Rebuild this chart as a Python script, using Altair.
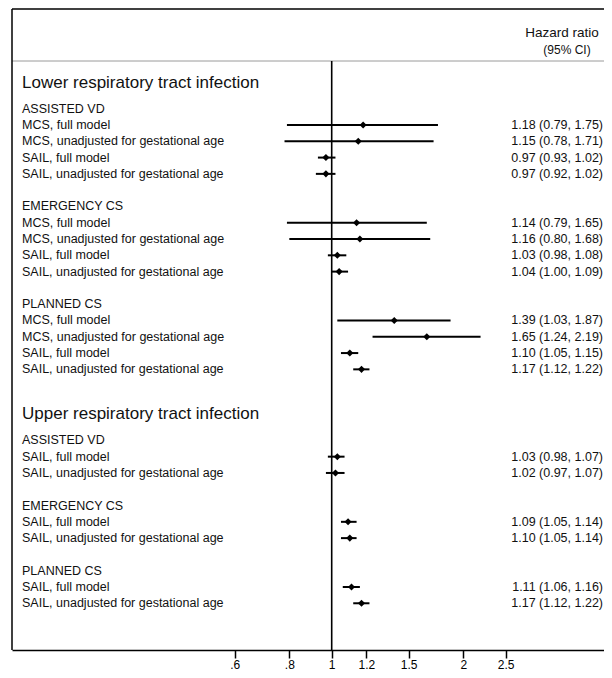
import math
import altair as alt
import pandas as pd

# ---------------- data ----------------
outcomes = ["Lower respiratory tract infection", "Upper respiratory tract infection"]
groups = ["ASSISTED VD", "EMERGENCY CS", "PLANNED CS"]
lower_models = ["MCS, full model", "MCS, unadjusted for gestational age",
                "SAIL, full model", "SAIL, unadjusted for gestational age"]
upper_models = ["SAIL, full model", "SAIL, unadjusted for gestational age"]

lower_hr = [1.18, 1.15, 0.97, 0.97, 1.14, 1.16, 1.03, 1.04, 1.39, 1.65, 1.10, 1.17]
lower_lo = [0.79, 0.78, 0.93, 0.92, 0.79, 0.80, 0.98, 1.00, 1.03, 1.24, 1.05, 1.12]
lower_hi = [1.75, 1.71, 1.02, 1.02, 1.65, 1.68, 1.08, 1.09, 1.87, 2.19, 1.15, 1.22]

upper_hr = [1.03, 1.02, 1.09, 1.10, 1.11, 1.17]
upper_lo = [0.98, 0.97, 1.05, 1.05, 1.06, 1.12]
upper_hi = [1.07, 1.07, 1.14, 1.14, 1.16, 1.22]

tick_values = [0.6, 0.8, 1, 1.2, 1.5, 2, 2.5]
tick_labels = [".6", ".8", "1", "1.2", "1.5", "2", "2.5"]
header_lines = ["Hazard ratio", "(95% CI)"]
null_value = [1]

# ---------------- build tables (row order) ----------------
titles, subs, items = [], [], []
y = -2.6
for outcome, models, hrs, los, his in [
    (outcomes[0], lower_models, lower_hr, lower_lo, lower_hi),
    (outcomes[1], upper_models, upper_hr, upper_lo, upper_hi),
]:
    titles.append({"label": outcome, "row": y})
    y += 1.6
    k = 0
    for g in groups:
        subs.append({"label": g, "row": y})
        y += 1
        for m in models:
            items.append({"label": m, "row": y, "hr": hrs[k], "lo": los[k], "hi": his[k],
                          "txt": f"{hrs[k]:.2f} ({los[k]:.2f}, {his[k]:.2f})"})
            y += 1
            k += 1
        y += 1
    y += 0.76

titles_df = pd.DataFrame(titles)
subs_df = pd.DataFrame(subs)
items_df = pd.DataFrame(items)
ref_df = pd.DataFrame({"x": null_value})
head_df = pd.DataFrame({"t": header_lines, "i": [0, 1]})

# ---------------- geometry ----------------
PAD_L, PAD_T = 4, 1
W, H = 592, 641
PAD_B = 662 - H - PAD_T
X_ONE = 319.7          # px of HR = 1 inside view
PX_PER_LN = 189.9
ROW0 = 116.0           # px of first item row inside view
ROW_PX = 16.29
SEP_Y = 52

x_dom = [math.exp(-X_ONE / PX_PER_LN), math.exp((W - X_ONE) / PX_PER_LN)]
y_dom = [-ROW0 / ROW_PX, (H - ROW0) / ROW_PX]

FONT = "Liberation Sans"

label_expr = " : ".join(
    [f"datum.value == {v} ? '{l}'" for v, l in zip(tick_values, tick_labels)]
) + " : datum.label"

xscale = alt.Scale(type="log", domain=x_dom, nice=False, zero=False)
yscale = alt.Scale(domain=y_dom, nice=False, zero=False, reverse=True)
xaxis = alt.Axis(values=tick_values, labelExpr=label_expr, title=None, grid=False,
                 tickSize=8, tickWidth=1.5, tickColor="black", domainColor="black",
                 domainWidth=1.5, labelFontSize=12, labelColor="black", labelFont=FONT,
                 labelPadding=1, labelFlush=False, labelOverlap=False)


def X(field):
    return alt.X(field, type="quantitative", scale=xscale, axis=xaxis)


Y = alt.Y("row:Q", scale=yscale, axis=None)

ci = alt.Chart(items_df).mark_rule(color="black", strokeWidth=2).encode(
    x=X("lo"), x2="hi", y=Y)

pts = alt.Chart(items_df).mark_point(shape="diamond", filled=True, size=50,
                                      color="black", opacity=1).encode(x=X("hr"), y=Y)

ref = alt.Chart(ref_df).mark_rule(color="black", strokeWidth=1.6).encode(
    x=X("x"), y=alt.value(SEP_Y), y2=alt.value(H))

sep = alt.Chart(ref_df).mark_rule(color="#9a9a9a", strokeWidth=1).encode(
    x=alt.value(0), x2=alt.value(W), y=alt.value(SEP_Y))

top_line = alt.Chart(ref_df).mark_rule(color="black", strokeWidth=1.5).encode(
    x=alt.value(0), x2=alt.value(W), y=alt.value(0))

left_line = alt.Chart(ref_df).mark_rule(color="black", strokeWidth=1.5).encode(
    x=alt.value(0), y=alt.value(0), y2=alt.value(H))

lab = alt.Chart(items_df).mark_text(align="left", baseline="middle", font=FONT,
                                    fontSize=12.5, color="#111").encode(
    x=alt.value(10), y=Y, text="label:N")

sub = alt.Chart(subs_df).mark_text(align="left", baseline="middle", font=FONT,
                                   fontSize=12.5, color="#111").encode(
    x=alt.value(10), y=Y, text="label:N")

tit = alt.Chart(titles_df).mark_text(align="left", baseline="middle", font=FONT,
                                     fontSize=17, color="#111").encode(
    x=alt.value(10), y=Y, text="label:N")

val = alt.Chart(items_df).mark_text(align="right", baseline="middle", font=FONT,
                                    fontSize=12.5, color="#111").encode(
    x=alt.value(W - 1), y=Y, text="txt:N")

h1 = alt.Chart(head_df[head_df.i == 0]).mark_text(align="center", baseline="middle",
                                                  font=FONT, fontSize=13.5, color="#111").encode(
    x=alt.value(W - 42), y=alt.value(24), text="t:N")
h2 = alt.Chart(head_df[head_df.i == 1]).mark_text(align="center", baseline="middle",
                                                  font=FONT, fontSize=12, color="#111").encode(
    x=alt.value(W - 37), y=alt.value(41), text="t:N")

chart = alt.layer(sep, ref, top_line, left_line, ci, pts, lab, sub, tit, val, h1, h2).properties(
    width=W, height=H,
    padding={"left": PAD_L, "top": PAD_T, "right": 0, "bottom": PAD_B},
    autosize=alt.AutoSizeParams(type="none"),
    background="white",
).configure_view(stroke=None)

chart.save("out.html", embed_options={"renderer": "svg", "actions": False})
